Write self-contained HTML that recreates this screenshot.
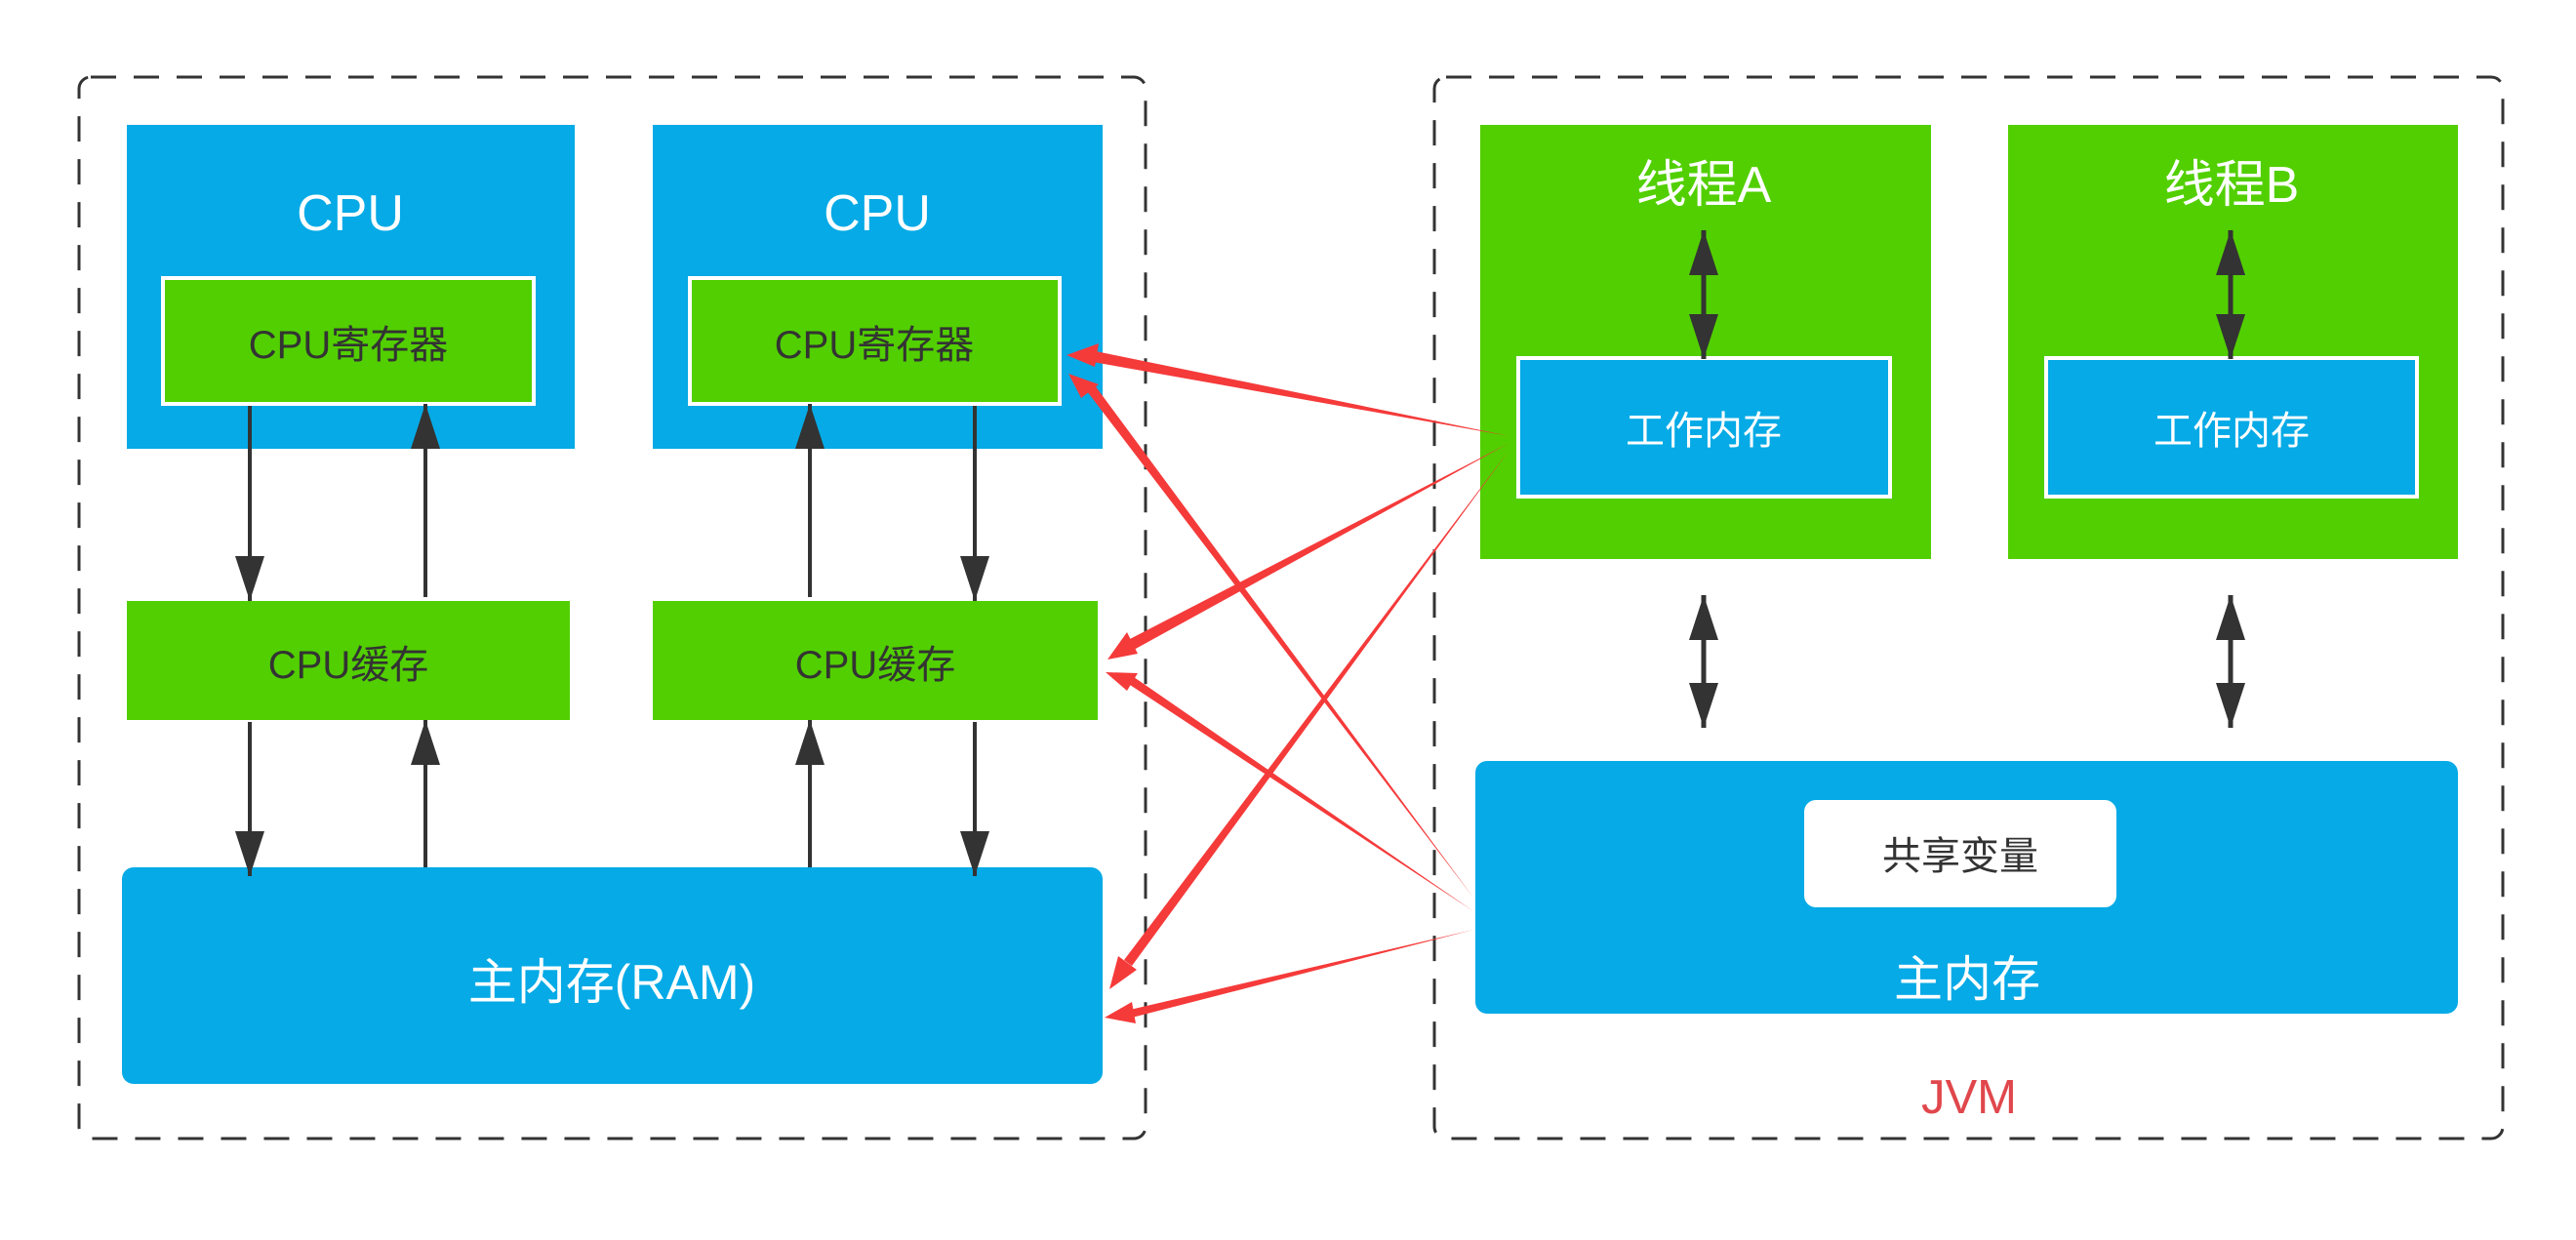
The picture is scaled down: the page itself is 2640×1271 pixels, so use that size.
<!DOCTYPE html>
<html><head><meta charset="utf-8"><style>
html,body{margin:0;padding:0;background:#fff;}
svg{display:block}
text{font-family:"Liberation Sans","Noto Sans CJK SC",sans-serif;text-anchor:middle;dominant-baseline:central}
</style></head><body>
<svg width="2640" height="1271" viewBox="0 0 2640 1271" xmlns="http://www.w3.org/2000/svg">
<defs>
<marker id="ah" viewBox="0 0 46 30" refX="46" refY="15" markerWidth="46" markerHeight="30" markerUnits="userSpaceOnUse" orient="auto">
<path d="M0,0 L46,15 L0,30 Z" fill="#333"/></marker>
<marker id="ahs" viewBox="0 0 46 30" refX="0" refY="15" markerWidth="46" markerHeight="30" markerUnits="userSpaceOnUse" orient="auto">
<path d="M46,0 L0,15 L46,30 Z" fill="#333"/></marker>
</defs>
<!-- dashed containers -->
<rect x="81" y="79" width="1093" height="1088" rx="12" fill="none" stroke="#333" stroke-width="3" stroke-dasharray="26,18"/>
<rect x="1470" y="79" width="1095" height="1088" rx="12" fill="none" stroke="#333" stroke-width="3" stroke-dasharray="26,18"/>

<!-- left side -->
<rect x="130" y="128" width="459" height="332" fill="#05aae6"/>
<rect x="669" y="128" width="461" height="332" fill="#05aae6"/>
<text x="359" y="219" font-size="52" fill="#fff">CPU</text>
<text x="899" y="219" font-size="52" fill="#fff">CPU</text>
<rect x="167" y="285" width="380" height="129" fill="#52cf00" stroke="#fff" stroke-width="4"/>
<rect x="707" y="285" width="379" height="129" fill="#52cf00" stroke="#fff" stroke-width="4"/>
<text x="357" y="354" font-size="40" fill="#333">CPU寄存器</text>
<text x="896" y="354" font-size="40" fill="#333">CPU寄存器</text>
<rect x="130" y="616" width="454" height="122" fill="#52cf00"/>
<rect x="669" y="616" width="456" height="122" fill="#52cf00"/>
<text x="357" y="682" font-size="40" fill="#333">CPU缓存</text>
<text x="897" y="682" font-size="40" fill="#333">CPU缓存</text>
<rect x="125" y="889" width="1005" height="222" rx="12" fill="#05aae6"/>
<text x="627" y="1007" font-size="50" fill="#fff">主内存(RAM)</text>

<g stroke="#333" stroke-width="4" fill="none">
<line x1="256" y1="416" x2="256" y2="616" marker-end="url(#ah)"/>
<line x1="436" y1="612" x2="436" y2="414" marker-end="url(#ah)"/>
<line x1="830" y1="612" x2="830" y2="414" marker-end="url(#ah)"/>
<line x1="999" y1="416" x2="999" y2="616" marker-end="url(#ah)"/>
<line x1="256" y1="740" x2="256" y2="898" marker-end="url(#ah)"/>
<line x1="436" y1="889" x2="436" y2="738" marker-end="url(#ah)"/>
<line x1="830" y1="889" x2="830" y2="738" marker-end="url(#ah)"/>
<line x1="999" y1="740" x2="999" y2="898" marker-end="url(#ah)"/>
</g>

<!-- right side -->
<rect x="1517" y="128" width="462" height="445" fill="#52cf00"/>
<rect x="2058" y="128" width="461" height="445" fill="#52cf00"/>
<text x="1746" y="190" font-size="52" fill="#fff">线程A</text>
<text x="2287" y="190" font-size="52" fill="#fff">线程B</text>
<rect x="1556" y="367" width="381" height="142" fill="#05aae6" stroke="#fff" stroke-width="4"/>
<rect x="2097" y="367" width="380" height="142" fill="#05aae6" stroke="#fff" stroke-width="4"/>
<text x="1746" y="442" font-size="40" fill="#fff">工作内存</text>
<text x="2287" y="442" font-size="40" fill="#fff">工作内存</text>
<g stroke="#333" stroke-width="5" fill="none">
<line x1="1746" y1="236" x2="1746" y2="368" marker-start="url(#ahs)" marker-end="url(#ah)"/>
<line x1="2286" y1="236" x2="2286" y2="368" marker-start="url(#ahs)" marker-end="url(#ah)"/>
<line x1="1746" y1="610" x2="1746" y2="746" marker-start="url(#ahs)" marker-end="url(#ah)"/>
<line x1="2286" y1="610" x2="2286" y2="746" marker-start="url(#ahs)" marker-end="url(#ah)"/>
</g>
<rect x="1512" y="780" width="1007" height="259" rx="12" fill="#05aae6"/>
<rect x="1849" y="820" width="320" height="110" rx="12" fill="#fff"/>
<text x="2009" y="878" font-size="40" fill="#333">共享变量</text>
<text x="2016" y="1004" font-size="50" fill="#fff">主内存</text>
<text x="2018" y="1125" font-size="49" fill="#e0474c">JVM</text>

<!-- red tapered arrows -->
<g fill="#f53a3a">
<polygon points="1547,447 1120,371 1118,359"/><polygon points="1093,364 1126,352 1122,376"/>
<polygon points="1547,454 1162,666 1156,656"/><polygon points="1135,676 1155,648 1166,670"/>
<polygon points="1547,461 1160,990 1152,984"/><polygon points="1137,1014 1146,980 1165,994"/>
<polygon points="1510,920 1114,401 1122,395"/><polygon points="1095,383 1126,394 1108,408"/>
<polygon points="1510,934 1158,702 1162,694"/><polygon points="1133,689 1166,690 1155,708"/>
<polygon points="1510,953 1160,1043 1158,1035"/><polygon points="1132,1043 1160,1027 1164,1049"/>
</g>
</svg>
</body></html>
